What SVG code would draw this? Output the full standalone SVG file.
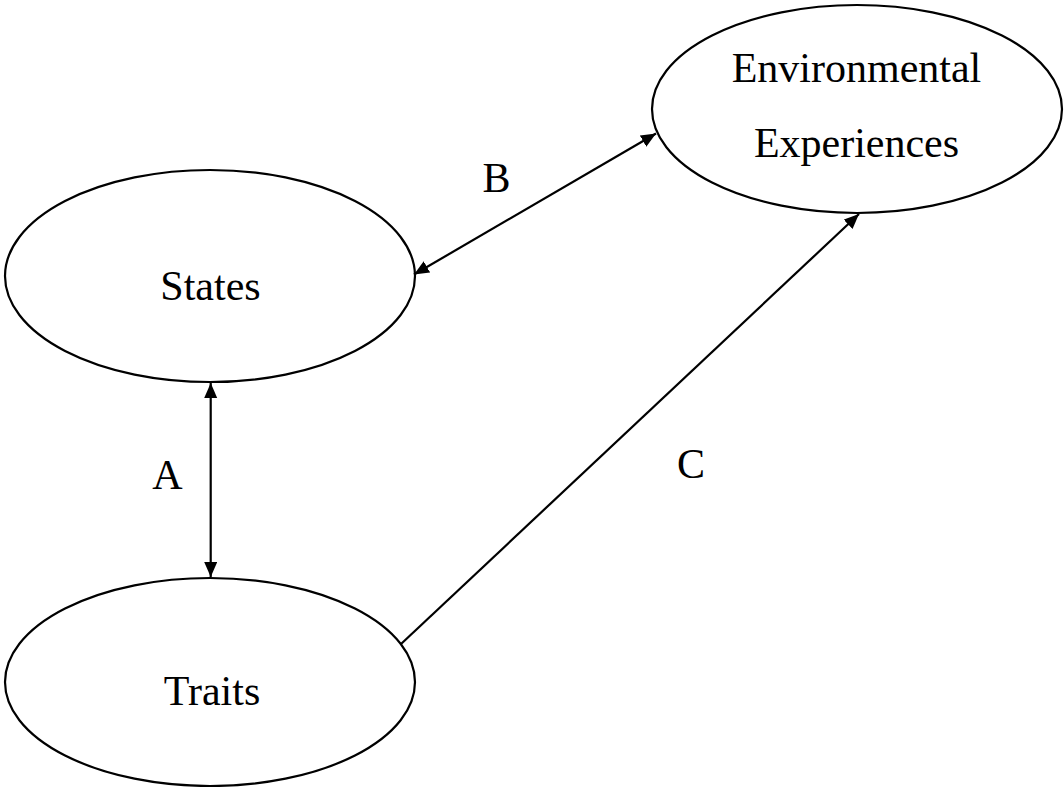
<svg xmlns="http://www.w3.org/2000/svg" width="1064" height="787" viewBox="0 0 1064 787">
<style>
.node{fill:#fff;stroke:#000;stroke-width:2.2}
.lbl{font-family:"Liberation Serif","Times New Roman",serif;font-size:42px;fill:#000;text-anchor:middle}
.conn{stroke:#000;stroke-width:2.2;fill:none}
</style>
<defs>
<marker id="ah" markerUnits="userSpaceOnUse" markerWidth="16" markerHeight="14" refX="15" refY="6.5" orient="auto-start-reverse">
<path d="M0,0 L15,6.5 L0,13 z" fill="#000"/>
</marker>
</defs>
<rect width="1064" height="787" fill="#fff"/>
<g id="states">
<ellipse class="node" cx="210" cy="276" rx="205" ry="106"/>
<text class="lbl" x="210.5" y="300">States</text>
</g>
<g id="traits">
<ellipse class="node" cx="210" cy="682" rx="205" ry="104"/>
<text class="lbl" x="212" y="705">Traits</text>
</g>
<g id="env">
<ellipse class="node" cx="857" cy="109" rx="205" ry="104"/>
<text class="lbl" x="856.5" y="82">Environmental</text>
<text class="lbl" x="856.5" y="157">Experiences</text>
</g>
<g id="connectors">
<line class="conn" x1="210.7" y1="383" x2="210.7" y2="577" marker-start="url(#ah)" marker-end="url(#ah)"/>
<line class="conn" x1="414" y1="274.5" x2="656" y2="133.5" marker-start="url(#ah)" marker-end="url(#ah)"/>
<line class="conn" x1="401" y1="644" x2="859" y2="214" marker-end="url(#ah)"/>
</g>
<g id="labels">
<text class="lbl" x="167.5" y="489">A</text>
<text class="lbl" x="496.5" y="192">B</text>
<text class="lbl" x="691" y="478">C</text>
</g>
</svg>
